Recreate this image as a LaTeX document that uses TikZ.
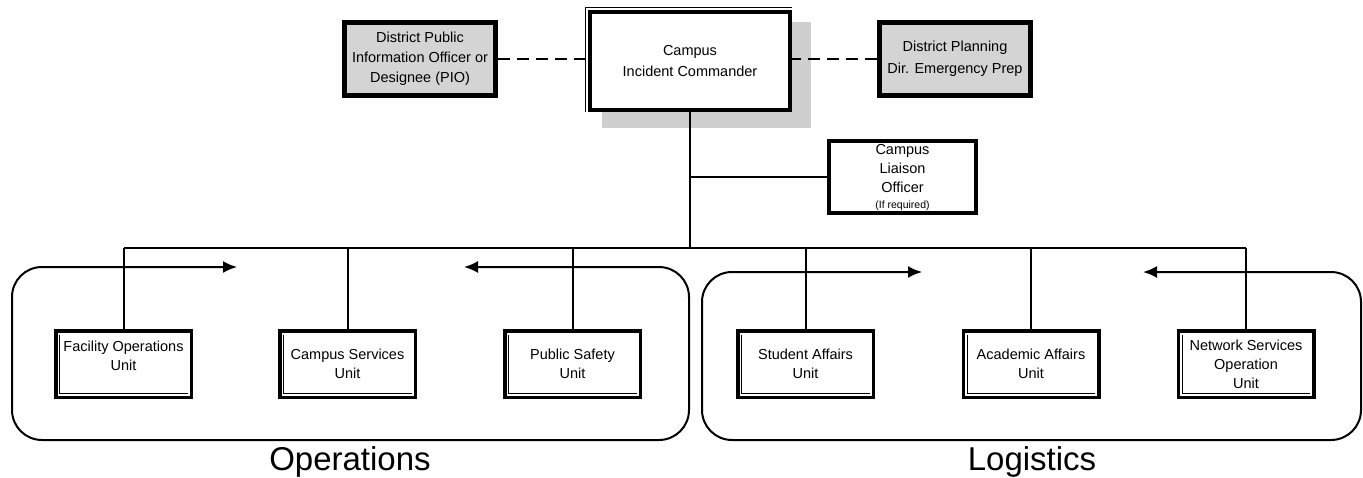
\documentclass[tikz,border=0pt]{standalone}
\usepackage{fontspec}
\setmainfont{Liberation Sans}
\usetikzlibrary{arrows.meta}
\definecolor{boxgray}{HTML}{D4D4D4}
\definecolor{shadowgray}{HTML}{CFCFCF}
\begin{document}
\begin{tikzpicture}[x=1pt,y=-1pt,
  txt/.style={font=\fontsize{14.5}{19}\selectfont, align=center, inner sep=0pt},
  unitbox/.style={draw, line width=3.5pt, fill=white, minimum width=135.5pt, minimum height=66.5pt, inner sep=0pt, txt},
  greybox/.style={draw, line width=5pt, fill=boxgray, minimum width=151pt, minimum height=73pt, inner sep=0pt, txt, font=\fontsize{14.5}{20}\selectfont},
  conn/.style={line width=2pt},
  dashline/.style={line width=2.5pt, dash pattern=on 12pt off 7pt},
  grouppath/.style={line width=2pt, rounded corners=30pt, {Latex[length=14pt,width=12pt]}-{Latex[length=14pt,width=12pt]}},
  biglabel/.style={font=\fontsize{33}{36}\selectfont, anchor=base, inner sep=0pt}]

\useasboundingbox (0,0) rectangle (1363,477);

% commander with shadow
\fill[shadowgray] (602,22) rectangle (811,128);
\node[draw, line width=4pt, fill=white, minimum width=200pt, minimum height=98pt, inner sep=0pt, txt, font=\fontsize{14.5}{21}\selectfont] (cmd) at (690,61) {Campus\\Incident Commander};
\draw[line width=1pt] ([xshift=-3pt]cmd.south west) -- ([shift={(-3pt,3pt)}]cmd.north west) -- ([yshift=3pt]cmd.north east);

% grey boxes
\node[greybox] (pio) at (420,59) {District Public\\Information Officer or\\Designee (PIO)};
\node[greybox, font=\fontsize{14.5}{22}\selectfont] (plan) at (955,59) {District Planning\\Dir. Emergency Prep};

\draw[dashline] (pio.east) -- (pio.east -| cmd.west);
\draw[dashline] (plan.west) -- (plan.west -| cmd.east);

% liaison
\node[draw, line width=4pt, fill=white, minimum width=147pt, minimum height=72pt, inner sep=0pt] (liai) at (902.5,177) {};
\node[txt] (liaitxt) at ([yshift=-1pt]liai.center) {Campus\\Liaison\\Officer\\[-3pt]{\fontsize{10.5}{11}\selectfont(If required)}};

% group outlines with arrows
\draw[grouppath] (237,267) -- (12,267) -- (12,440) -- (689,440) -- (689,267) -- (464,267);
\draw[grouppath] (922,272) -- (702,272) -- (702,440) -- (1361,440) -- (1361,272) -- (1143,272);

% units
\node[unitbox] (fac) at (123.5,364) {};
\node[txt] (factxt) at (123.5,355.5) {Facility Operations\\Unit};
\node[unitbox] (csv) at (347.5,364) {Campus Services\\Unit};
\node[unitbox] (psu) at (572.5,364) {Public Safety\\Unit};
\node[unitbox] (sau) at (805.5,364) {Student Affairs\\Unit};
\node[unitbox] (aau) at (1031,364) {Academic Affairs\\Unit};
\node[unitbox] (nsu) at (1246,364) {Network Services\\Operation\\Unit};

\foreach \n in {fac,csv,psu,sau,aau,nsu}{
  \draw[line width=0.8pt] ([shift={(5.5pt,-5.5pt)}]\n.north west) -- ([shift={(5.5pt,5.5pt)}]\n.south west) -- ([shift={(-5.5pt,5.5pt)}]\n.south east);
}

% bus
\coordinate (busL) at (123.5,248);
\coordinate (busR) at (1246,248);
\draw[conn] (busL) -- (busR);
\draw[conn] (cmd.south) -- (cmd.south |- busL);
\draw[conn] (liai.west) -- (liai.west -| cmd.south);
\foreach \n in {fac,csv,psu,sau,aau,nsu}{
  \draw[conn] (\n.north) -- (\n.north |- busL);
}

% labels
\node[biglabel] (ops) at (350,470) {Operations};
\node[biglabel] (log) at (1032,470) {Logistics};
\end{tikzpicture}
\end{document}
